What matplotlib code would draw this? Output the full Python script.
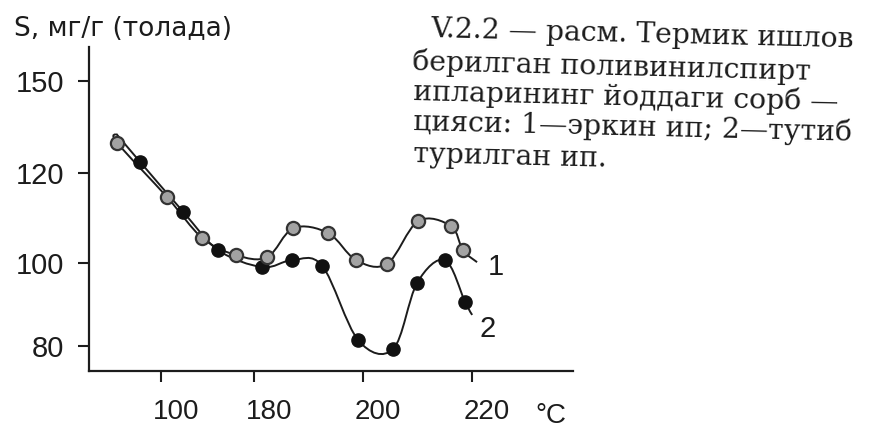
import matplotlib
matplotlib.use("Agg")
import matplotlib.pyplot as plt
import matplotlib.transforms as mtransforms
from matplotlib.path import Path
from matplotlib.patches import PathPatch
import numpy as np

# --- data (temperature, sorption) ---
# curve 1: free fibre (grey points); first/last entries are the line tails
t1 = [154.7, 154.9, 164.0, 170.5, 176.7, 182.4, 187.2, 193.6, 198.7, 204.4, 210.1, 216.1, 218.3, 220.9]
s1 = [131.1, 128.9, 115.9, 106.0, 101.9, 101.4, 108.4, 107.2, 100.7, 99.8, 110.1, 108.9, 103.1, 100.2]
# curve 2: held fibre (black points)
t2 = [154.7, 159.1, 167.0, 173.4, 181.5, 187.0, 192.5, 199.1, 205.5, 209.9, 215.0, 218.7, 220.0]
s2 = [131.1, 124.3, 112.3, 103.1, 99.0, 100.7, 99.3, 81.4, 79.3, 95.2, 100.7, 90.6, 87.5]

xtick_pos = [163, 180, 200, 220]
xtick_lab = ["100", "180", "200", "220"]
ytick_pos = [80, 100, 121.7, 143.9]
ytick_lab = ["80", "100", "120", "150"]

ylabel = "S, мг/г (толада)"
xunit = "°C"
caption = ["V.2.2 — расм. Термик ишлов",
           "берилган поливинилспирт",
           "ипларининг йоддаги сорб —",
           "цияси: 1—эркин ип; 2—тутиб",
           "турилган ип."]

SANS = ["Liberation Sans", "DejaVu Sans"]
SERIF = ["DejaVu Serif", "Liberation Serif"]
INK = "#1c1c1c"


def smooth_path(xs, ys):
    # catmull-rom through the points, as cubic bezier segments
    p = np.column_stack([xs, ys])
    verts = [p[0]]
    codes = [Path.MOVETO]
    n = len(p)
    for i in range(n - 1):
        p0 = p[i - 1] if i > 0 else p[i]
        p3 = p[i + 2] if i + 2 < n else p[i + 1]
        c1 = p[i] + (p[i + 1] - p0) / 6
        c2 = p[i + 1] - (p3 - p[i]) / 6
        verts += [c1, c2, p[i + 1]]
        codes += [Path.CURVE4] * 3
    return Path(verts, codes)


fig = plt.figure(figsize=(8.7, 4.28), dpi=100)
ax = fig.add_axes([89/870, 57/428, 484/870, 324/428])

# scaling: 5.45 px per degree, 4.15 px per unit of S
ax.set_xlim(149.7, 238.5)
ax.set_ylim(74.0, 152.0)

for xs, ys in [(t2, s2), (t1, s1)]:
    ax.add_patch(PathPatch(smooth_path(xs, ys), fc="none", ec=INK, lw=1.4,
                           transform=ax.transData, zorder=2))

ax.plot(t2[1:-1], s2[1:-1], "o", ms=9.5, mfc="#111111", mec="#111111", zorder=3)
ax.plot(t1[1:-1], s1[1:-1], "o", ms=9.5, mfc="#a3a3a3", mec="#333333", mew=1.6, zorder=4)

ax.text(222.8, 99.0, "1", fontsize=21, family=SANS, color=INK, ha="left", va="center")
ax.text(221.3, 84.2, "2", fontsize=21, family=SANS, color=INK, ha="left", va="center")

for s in ["top", "right"]:
    ax.spines[s].set_visible(False)
for s in ["left", "bottom"]:
    ax.spines[s].set_linewidth(1.6)
    ax.spines[s].set_color(INK)

ax.set_xticks(xtick_pos)
ax.set_xticklabels(xtick_lab, fontsize=20, family=SANS, color=INK)
ax.set_yticks(ytick_pos)
ax.set_yticklabels(ytick_lab, fontsize=21, family=SANS, color=INK)
ax.tick_params(axis="x", direction="out", length=8, width=1.5, pad=12, colors=INK)
ax.tick_params(axis="y", direction="out", length=8, width=1.5, pad=10, colors=INK)

shift = mtransforms.ScaledTranslation(15/100, 0, fig.dpi_scale_trans)
for lab in ax.get_xticklabels():
    lab.set_transform(lab.get_transform() + shift)

fig.text(14/870, 1 - 29/428, ylabel, fontsize=19, family=["DejaVu Sans"], color=INK,
         ha="left", va="center")
fig.text(551/870, 1 - 416/428, xunit, fontsize=20, family=SANS, color=INK,
         ha="center", va="center")

# caption, slightly tilted like the scanned page
starts = [(430, 37), (412, 70), (413, 100), (413, 130), (413, 162)]
for (px, py), line in zip(starts, caption):
    fig.text(px/870, 1 - py/428, line, fontsize=20.3, family=SERIF, color=INK,
             ha="left", va="baseline", rotation=-1.4, rotation_mode="anchor")

fig.savefig("out.png", dpi=100, facecolor="white")
